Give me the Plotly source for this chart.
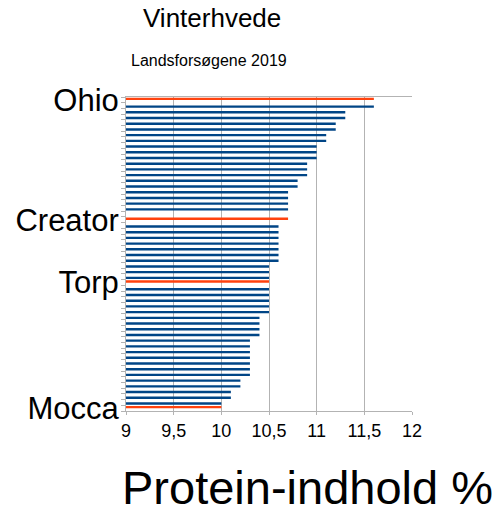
import plotly.graph_objects as go

# Categories top -> bottom (unnamed cultivars shown without label)
labels = ["Ohio"] + [""] * 19 + ["", "Creator"] + [""] * 10 + ["Torp"] + [""] * 21 + ["Mocca"]
categories = [f"Sort {i+1}" if labels[i] == "" else labels[i] for i in range(len(labels))]

# Other cultivars (blue series)
other_vals = [None, 11.6, 11.3, 11.3, 11.2, 11.2, 11.1, 11.1, 11.0, 11.0, 11.0,
              10.9, 10.9, 10.9, 10.8, 10.8, 10.7, 10.7, 10.7, 10.7,
              None, None,
              10.6, 10.6, 10.6, 10.6, 10.6, 10.6, 10.6,
              10.5, 10.5, 10.5, None, 10.5, 10.5, 10.5, 10.5, 10.5,
              10.4, 10.4, 10.4, 10.4,
              10.3, 10.3, 10.3, 10.3, 10.3, 10.3, 10.3,
              10.2, 10.2, 10.1, 10.1, 10.0, None]
# Highlighted cultivars (red series)
highlight_vals = [11.6] + [None] * 20 + [10.7] + [None] * 10 + [10.5] + [None] * 21 + [10.0]

x_ticks = [9, 9.5, 10, 10.5, 11, 11.5, 12]

fig = go.Figure()
fig.add_trace(go.Bar(y=categories, x=other_vals, orientation="h",
                     marker=dict(color="#004586", line=dict(width=0)),
                     width=0.42, offset=-0.03, name="Sorter"))
fig.add_trace(go.Bar(y=categories, x=highlight_vals, orientation="h",
                     marker=dict(color="#ff420e", line=dict(width=0)),
                     width=0.42, offset=-0.39, name="Udvalgte"))

font = "Liberation Sans, Arial, sans-serif"
fig.update_layout(
    width=503, height=510,
    margin=dict(l=126, r=91, t=97, b=99),
    barmode="overlay",
    showlegend=False,
    plot_bgcolor="white", paper_bgcolor="white",
    separators=", ",
    font=dict(family=font, color="black"),
    xaxis=dict(range=[9, 12], tickvals=x_ticks, showgrid=True, gridcolor="#b3b3b3",
               gridwidth=1, showline=True, linecolor="#b3b3b3", mirror=True,
               ticks="outside", ticklen=3, tickcolor="#b3b3b3",
               tickfont=dict(size=18, family=font), zeroline=False),
    yaxis=dict(type="category", categoryorder="array", categoryarray=categories,
               autorange="reversed", tickvals=categories, ticktext=labels,
               tickson="boundaries", ticks="outside", ticklen=4, tickcolor="#b3b3b3",
               ticklabelstandoff=0,
               showline=True, linecolor="#b3b3b3", showgrid=False,
               tickfont=dict(size=31, family=font)),
    annotations=[
        dict(text="Vinterhvede", xref="paper", yref="paper", x=0.30, y=1.253,
             xanchor="center", yanchor="middle", showarrow=False, font=dict(size=26)),
        dict(text="Landsforsøgene 2019", xref="paper", yref="paper", x=0.29, y=1.115,
             xanchor="center", yanchor="middle", showarrow=False, font=dict(size=16)),
        dict(text="Protein-indhold %", xref="paper", yref="paper", x=0.636, y=-0.245,
             xanchor="center", yanchor="middle", showarrow=False, font=dict(size=47)),
    ],
)
fig.write_html("out.html", post_script="document.body.style.margin='0';",
               config={"displayModeBar": False})
